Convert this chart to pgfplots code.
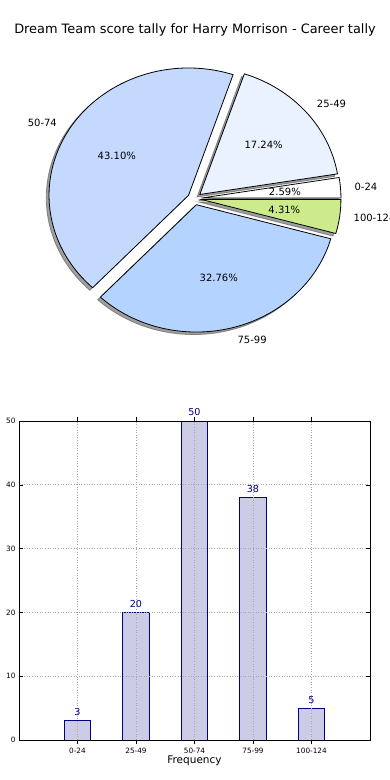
\documentclass[border=0pt]{standalone}
\usepackage{pgfplots}
\pgfplotsset{compat=1.18}
\usepackage{pgfplotstable}
\usepackage{fontspec}
\setmainfont{DejaVu Sans}

\definecolor{cA}{HTML}{FFFFFF}
\definecolor{cB}{HTML}{EAF1FF}
\definecolor{cC}{HTML}{C5D9FF}
\definecolor{cD}{HTML}{B4D4FF}
\definecolor{cE}{HTML}{CDEB8B}
\definecolor{barfill}{HTML}{CCCCE6}
\definecolor{navy}{HTML}{000080}

\pgfplotstableread{
idx label value
0 0-24 3
1 25-49 20
2 50-74 50
3 75-99 38
4 100-124 5
}\datatable

\begin{document}
\begin{tikzpicture}
\useasboundingbox (0,0) rectangle (390pt,780pt);
% cumulative angles from the data
\gdef\total{0}
\foreach \i in {0,...,4}{%
  \pgfplotstablegetelem{\i}{value}\of\datatable
  \xdef\total{\fpeval{\total+\pgfplotsretval}}%
}
\gdef\cum{0}
\foreach \i in {0,...,4}{%
  \pgfplotstablegetelem{\i}{value}\of\datatable
  \edef\e{\fpeval{round(\cum+\pgfplotsretval/\total*360,4)}}%
  \edef\p{\fpeval{round(\pgfplotsretval/\total*100,2)}}%
  \expandafter\xdef\csname sa\i\endcsname{\cum}%
  \expandafter\xdef\csname ea\i\endcsname{\e}%
  \expandafter\xdef\csname pc\i\endcsname{\p}%
  \xdef\cum{\e}%
}

\node[font=\fontsize{12.9}{15}\selectfont] at (195pt,750pt) {Dream Team score tally for Harry Morrison - Career tally};

% ---------------- pie ----------------
\begin{axis}[at={(0pt,390pt)}, anchor=south west, scale only axis,
  width=390pt, height=390pt,
  xmin=-1.3943, xmax=1.4014, ymin=-1.5035, ymax=1.5601,
  hide axis, clip=false]
\pgfplotsextra{%
  % shadows
  \foreach \i in {0,...,4}{%
    \pgfmathsetmacro\sa{\csname sa\i\endcsname}%
    \pgfmathsetmacro\ea{\csname ea\i\endcsname}%
    \pgfmathsetmacro\m{(\sa+\ea)/2}%
    \pgfmathsetmacro\ox{0.05*cos(\m)-0.02}%
    \pgfmathsetmacro\oy{0.05*sin(\m)-0.02}%
    \filldraw[black!75, opacity=0.5, line width=0.8pt] (axis cs:\ox,\oy) -- +(\sa:139.5pt and 127.3pt)
      arc[start angle=\sa, end angle=\ea, x radius=139.5pt, y radius=127.3pt] -- cycle;
  }%
  % wedges
  \foreach \i/\c in {0/cA,1/cB,2/cC,3/cD,4/cE}{%
    \pgfmathsetmacro\sa{\csname sa\i\endcsname}%
    \pgfmathsetmacro\ea{\csname ea\i\endcsname}%
    \pgfmathsetmacro\m{(\sa+\ea)/2}%
    \pgfmathsetmacro\ox{0.05*cos(\m)}%
    \pgfmathsetmacro\oy{0.05*sin(\m)}%
    \filldraw[fill=\c, draw=black, line width=0.8pt, line join=miter] (axis cs:\ox,\oy) -- +(\sa:139.5pt and 127.3pt)
      arc[start angle=\sa, end angle=\ea, x radius=139.5pt, y radius=127.3pt] -- cycle;
  }%
  % labels
  \foreach \i in {0,...,4}{%
    \pgfmathsetmacro\sa{\csname sa\i\endcsname}%
    \pgfmathsetmacro\ea{\csname ea\i\endcsname}%
    \pgfmathsetmacro\m{(\sa+\ea)/2}%
    \pgfmathsetmacro\cm{cos(\m)}%
    \pgfmathsetmacro\lx{1.15*cos(\m)}%
    \pgfmathsetmacro\ly{1.15*sin(\m)}%
    \pgfmathsetmacro\px{0.65*cos(\m)}%
    \pgfmathsetmacro\py{0.65*sin(\m)}%
    \ifdim\cm pt>0pt \def\anc{west}\else\def\anc{east}\fi
    \pgfplotstablegetelem{\i}{label}\of\datatable
    \node[anchor=\anc, inner sep=0pt, font=\fontsize{10}{12}\selectfont] at (axis cs:\lx,\ly) {\pgfplotsretval};
    \node[inner sep=0pt, font=\fontsize{10}{12}\selectfont] at (axis cs:\px,\py)
      {\pgfmathprintnumber[fixed, precision=2, fixed zerofill, assume math mode=true]{\csname pc\i\endcsname}\%};
  }%
}
\end{axis}

% ---------------- bars ----------------
\begin{axis}[at={(19pt,40pt)}, anchor=south west, scale only axis,
  width=351pt, height=319pt,
  xmin=-1, xmax=5, ymin=0, ymax=50,
  xtick={0,1,2,3,4}, xticklabels from table={\datatable}{label},
  ytick={0,10,20,30,40,50},
  tick align=inside, major tick length=4.4pt,
  tick style={black, line width=0.6pt},
  axis line style={line width=0.9pt},
  grid=major, grid style={black!35, line width=0.7pt, dash pattern=on 1pt off 1.6pt},
  axis on top,
  ticklabel style={font=\fontsize{7.3}{8}\selectfont},
  /pgf/number format/assume math mode=true,
  xlabel={Frequency},
  xlabel style={font=\fontsize{10.5}{12}\selectfont, at={(axis description cs:0.5,0)}, anchor=center, yshift=-20.5pt},
  clip=false,
  ybar, bar width=0.45,
  nodes near coords,
  nodes near coords style={font=\fontsize{9.6}{11}\selectfont, text=navy, inner sep=2pt, yshift=2.5pt},
]
\addplot[fill=barfill, draw=navy, line width=0.8pt] table[x=idx, y=value]{\datatable};
\end{axis}
\end{tikzpicture}
\end{document}
